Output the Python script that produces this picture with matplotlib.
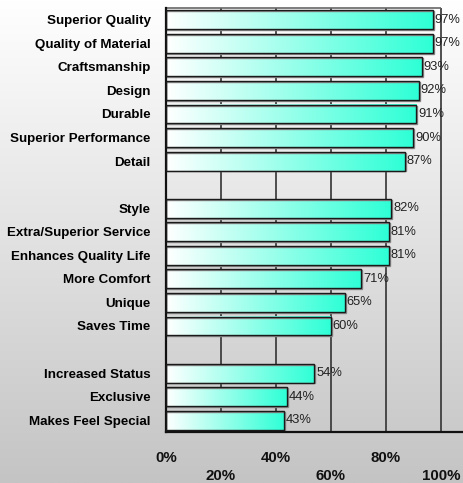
import numpy as np
import matplotlib
matplotlib.use("Agg")
import matplotlib.pyplot as plt
from matplotlib.colors import LinearSegmentedColormap

categories = ["Superior Quality", "Quality of Material", "Craftsmanship", "Design",
              "Durable", "Superior Performance", "Detail", "",
              "Style", "Extra/Superior Service", "Enhances Quality Life", "More Comfort",
              "Unique", "Saves Time", "",
              "Increased Status", "Exclusive", "Makes Feel Special"]
values = [97, 97, 93, 92, 91, 90, 87, None,
          82, 81, 81, 71, 65, 60, None,
          54, 44, 43]
xticks = [0, 20, 40, 60, 80, 100]
xtick_labels = ["0%", "20%", "40%", "60%", "80%", "100%"]

plt.rcParams['font.family'] = ['Liberation Sans', 'DejaVu Sans']

fig = plt.figure(figsize=(4.64, 4.83), dpi=100)

# background gradient
bg = fig.add_axes([0, 0, 1, 1], zorder=0)
grad = np.linspace(0, 1, 256).reshape(-1, 1)
bg_cmap = LinearSegmentedColormap.from_list("bg", ["#ffffff", "#c4c4c4"])
bg.imshow(grad, aspect='auto', cmap=bg_cmap, extent=[0, 1, 0, 1], origin='upper')
bg.set_axis_off()

ax = fig.add_axes([166/464, 51/483, 298/464, 424/483], zorder=1)
ax.patch.set_alpha(0)

n = len(categories)
ypos = np.arange(n)
h = 0.8
bar_cmap = LinearSegmentedColormap.from_list("bar", ["#ffffff", "#2effd6"])
hgrad = np.linspace(0, 1, 256).reshape(1, -1)

xmax = 298/275*100

for x in xticks[1:]:
    ax.axvline(x, color="#333333", lw=1.2, zorder=1)
ax.hlines(-0.5, 0, 100, color="#666666", lw=1.2, zorder=1, clip_on=False)

for y, v in zip(ypos, values):
    if v is None:
        continue
    ax.imshow(hgrad, aspect='auto', cmap=bar_cmap,
              extent=[0, v, y + h/2, y - h/2], zorder=2, interpolation='bilinear')
    ax.barh(y + 0.04, v + 0.3, height=h, fill=False, edgecolor="#888888", lw=1.0, zorder=2.5)
    ax.barh(y, v, height=h, fill=False, edgecolor="#1a1a1a", lw=1.0, zorder=3)
    ax.text(v + 0.6, y, f"{v}%", va='center', ha='left', fontsize=9.3, color="#222222", zorder=4)

ax.set_xlim(0, xmax)
ax.set_ylim(n - 0.5, -0.5)

ax.set_yticks(ypos)
ax.set_yticklabels(categories, fontsize=9.6, fontweight='bold')
ax.tick_params(axis='y', length=0, pad=11)
ax.set_xticks(xticks)
ax.set_xticklabels([])
ax.tick_params(axis='x', length=0)
for i, (x, lab) in enumerate(zip(xticks, xtick_labels)):
    yy = -19 if i % 2 == 0 else -32
    ax.annotate(lab, xy=(x, 0), xycoords=('data', 'axes fraction'),
                xytext=(0, yy), textcoords='offset points',
                ha='center', va='center', fontsize=10.8, fontweight='bold', color="#111111")

for s in ['top', 'right']:
    ax.spines[s].set_visible(False)
ax.spines['left'].set_color("#111111")
ax.spines['left'].set_linewidth(1.6)
ax.spines['bottom'].set_color("#111111")
ax.spines['bottom'].set_linewidth(1.6)

fig.savefig("out.png", dpi=100)
